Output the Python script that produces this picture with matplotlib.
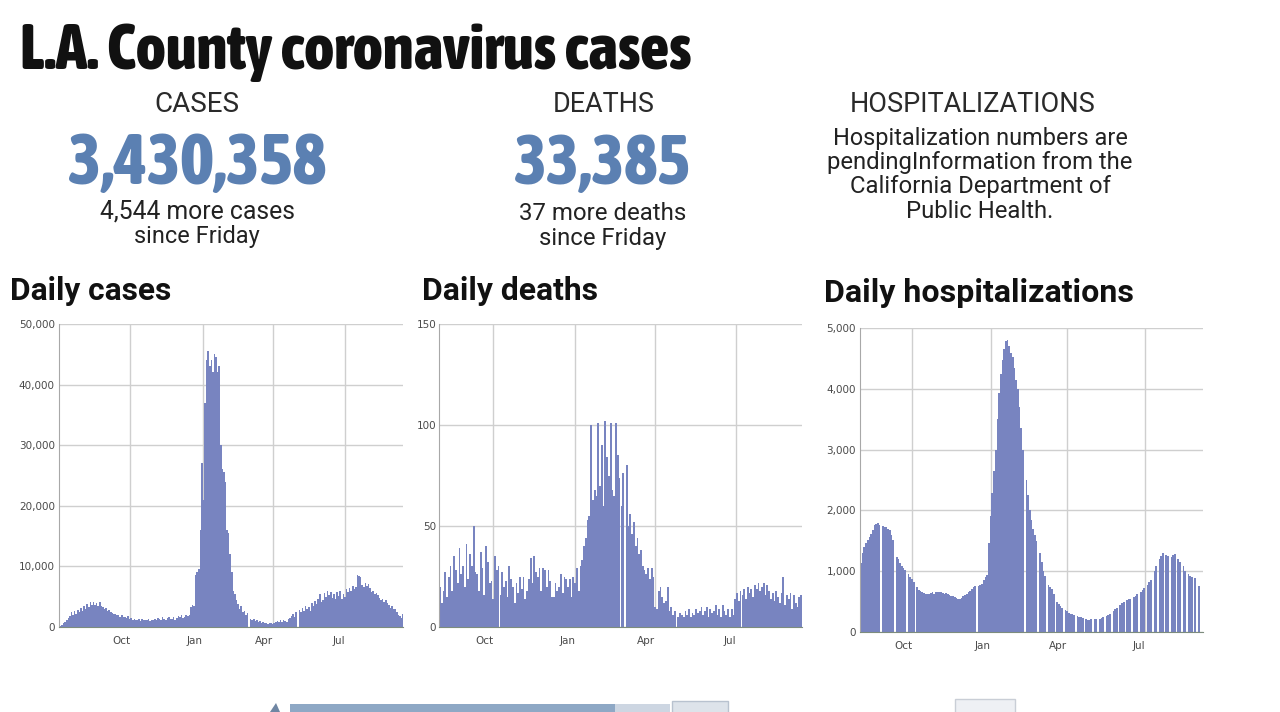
import numpy as np
import pandas as pd
import matplotlib
matplotlib.use("Agg")
import matplotlib.pyplot as plt
from matplotlib.patches import Rectangle, Polygon
from matplotlib import font_manager as fm

# ---------------- data ----------------
cases_start = "2020-07-03"   # 2-day bins
cases_values = [
    200, 400, 700, 900, 1200, 1500, 1800, 2400, 1900, 2600, 2200, 2800, 2500, 3200, 2700, 3400, 3000,
    3800, 3300, 4100, 3600, 4200, 3700, 4000, 3500, 4100, 3400, 3300, 2900, 3100, 2600, 2800, 2400, 2300,
    2100, 2200, 1900, 2000, 1700, 1900, 1600, 1700, 1500, 1800, 1400, 1500,
    1200, 1300, 1100, 1200, 1400, 1000, 1300, 1200, 1100, 1200, 1300, 1000, 1200, 1100, 1300,
    1200, 1500, 1300, 1100, 1600, 1400, 1200, 1500, 1700, 1300, 1400, 1600, 1200, 1500, 1800,
    1600, 1900, 1500, 1700, 2000, 1800, 1900,
    3300, 3600, 3500,
    8600, 9000, 9500, 16000, 27000, 21000, 37000, 44000, 45500, 43000, 44000, 42000, 45000, 44500, 42000,
    43000, 30000, 26000, 25500, 24000, 16000, 15500, 12000, 9000, 6000, 5500, 4500, 3800, 3000, 3500,
    2500, 2700, 2000, 2300, 0, 1300, 1200, 1400, 1000, 1100, 900, 1000, 700, 800, 600, 700, 500, 600,
    700, 500, 600,
    800, 1000, 900, 1100, 800, 1200, 1000, 900, 1300, 1500,
    1800, 2200, 1600, 2500, 0,
    2800, 2400, 3200, 2600, 3500, 2900, 3300, 2700,
    4000, 3500, 4300, 3800, 4600, 5400, 4200, 4500,
    5600, 5000, 5900, 5200, 5800, 4800, 5500,
    4700, 5800, 5100, 6000, 4600, 5400, 5000,
    6300, 5700, 6500, 5900, 6800, 6200, 6600,
    8600, 8400, 8200,
    7000, 6600, 7300, 6800, 7100, 6500,
    5800, 6000, 5400, 5600, 5200,
    4800, 4500, 4700, 4200, 4400, 3900,
    3600, 3200, 3400, 2900, 3000, 2500,
    2000, 1800, 1500, 2100,
]

deaths_start = "2020-08-01"  # 2-day bins
deaths_values = [
    20, 12, 18, 27, 15, 25, 30, 18, 35, 28, 22,
    39, 26, 30, 20, 41, 24, 36, 30, 50, 27,
    26, 18, 37, 29, 16, 40, 32, 22, 23, 14,
    35, 28, 30, 16, 27, 20, 23, 15, 30, 24,
    20, 12, 22, 17, 25, 19, 25, 14, 18, 24,
    34, 22, 35, 27, 25, 29, 18, 29, 28, 20,
    28, 23, 15, 15, 22, 18, 20, 26, 17, 25,
    24, 20, 24, 15, 25, 22, 29, 18, 30,
    33, 40, 44, 53, 55, 100, 63, 68, 65, 101,
    70, 90, 60, 102, 84, 75, 101, 68, 65, 101,
    85, 74, 60, 76, 0, 80, 50, 56, 46, 52,
    40, 44, 36, 38, 30, 28, 26, 29, 24, 29,
    25, 10, 9, 18, 20, 15, 12, 13, 20, 8,
    10, 6, 8, 0, 5, 7, 6, 5, 8, 6,
    9, 5, 7, 6, 9, 7, 8, 10, 6, 8,
    10, 5, 9, 7, 8, 11, 6, 9, 5, 11,
    8, 6, 9, 5, 9, 6, 14, 17, 13, 18,
    16, 19, 14, 20, 17, 19, 15, 21, 19, 22,
    18, 20, 22, 16, 21, 18, 14, 17, 13, 18,
    15, 12, 17, 25, 11, 16, 14, 17, 9, 16,
    12, 10, 15, 16,
]

hosp_start = "2020-08-01"    # 2-day bins
hosp_values = [
    1130, 1300, 1400, 1460, 1520, 1570, 1620, 1680, 1760, 1770,
    1790, 1760, 0, 1750, 1730, 1720, 1700, 1680, 1600, 1510,
    0, 1240, 1200, 1130, 1080, 1050, 1020, 0, 950, 910,
    870, 820, 0, 740, 690, 670, 650, 640, 630, 620,
    630, 640, 650, 630, 650, 660, 660, 650, 640, 630,
    640, 630, 610, 600, 590, 580, 560, 550, 550, 560,
    590, 610, 630, 650, 680, 700, 740, 750, 0, 760,
    770, 790, 850, 900, 930, 1460, 1900, 2280, 2650, 3000,
    3500, 3930, 4250, 4480, 4650, 4780, 4800, 4700, 4590, 4520,
    4350, 4150, 4000, 3700, 3350, 3000, 0, 2500, 2250, 2000,
    1850, 1700, 1600, 1500, 0, 1300, 1150, 1000, 920, 0,
    780, 740, 700, 620, 0, 500, 460, 420, 400, 0,
    370, 350, 320, 300, 290, 280, 0, 260, 250, 240,
    230, 0, 210, 200, 200, 210, 0, 210, 220, 0,
    220, 230, 240, 0, 260, 280, 300, 0, 350, 380,
    400, 0, 450, 480, 500, 0, 520, 540, 550, 0,
    580, 600, 620, 0, 660, 690, 720, 0, 780, 820,
    850, 0, 1000, 1080, 0, 1200, 1250, 1300, 0, 1270,
    1250, 0, 1230, 1260, 1280, 0, 1200, 1150, 0, 1080,
    1000, 0, 960, 920, 900, 0, 880, 0, 750, 0,
]

month_ticks = ["2020-10-01", "2021-01-01", "2021-04-01", "2021-07-01"]
month_labels = ["Oct", "Jan", "Apr", "Jul"]

cases_yticks = [0, 10000, 20000, 30000, 40000, 50000]
cases_ylabels = ["0", "10,000", "20,000", "30,000", "40,000", "50,000"]
deaths_yticks = [0, 50, 100, 150]
deaths_ylabels = ["0", "50", "100", "150"]
hosp_yticks = [0, 1000, 2000, 3000, 4000, 5000]
hosp_ylabels = ["0", "1,000", "2,000", "3,000", "4,000", "5,000"]

headline = "L.A. County coronavirus cases"
total_cases = "3,430,358"
total_deaths = "33,385"
new_cases = "4,544 more cases"
new_deaths = "37 more deaths"
hosp_note = ["Hospitalization numbers are", "pendingInformation from the",
             "California Department of", "Public Health."]

# ---------------- fonts ----------------
W, H = 1280, 712
BAR = "#7884c0"
BLUE = "#5b80b2"
avail = {f.name for f in fm.fontManager.ttflist}
BODY = "Roboto" if "Roboto" in avail else "DejaVu Sans"

_STRETCH = {"ultra-condensed": 0, "extra-condensed": 1, "condensed": 2, "semi-condensed": 3}
_WEIGHT = {"bold": 700, "heavy": 800, "extra bold": 800, "black": 900, "demibold": 600,
           "semibold": 600, "normal": 400, "regular": 400, "medium": 500}


def pick_condensed():
    best, best_score = None, None
    for f in fm.fontManager.ttflist:
        if f.style != "normal":
            continue
        st = f.stretch
        if isinstance(st, str):
            lvl = _STRETCH.get(st)
        else:
            lvl = 0 if st <= 200 else 1 if st <= 300 else 2 if st <= 400 else 3 if st < 500 else None
        fn = f.fname.replace("-", "").replace("_", "").lower()
        if lvl is None:
            if "extracondensed" in fn or "ultracondensed" in fn:
                lvl = 1
            elif "semicondensed" in fn:
                lvl = 3
            elif "condensed" in fn or "narrow" in fn or "condensed" in f.name.lower():
                lvl = 2
        if lvl is None:
            continue
        wt = f.weight
        if isinstance(wt, str):
            wt = _WEIGHT.get(wt.lower(), 400)
        if wt < 600:
            continue
        score = (lvl, abs(wt - 800))
        if best_score is None or score < best_score:
            best, best_score = f, score
    return best


_cf = pick_condensed()
if _cf is not None:
    COND_KW = dict(fontproperties=fm.FontProperties(fname=_cf.fname))
else:
    COND_KW = dict(family="DejaVu Sans", weight="bold")

fig = plt.figure(figsize=(12.8, 7.12), dpi=100)
fig.patch.set_facecolor("white")


def rect(l, t, r, b):
    return [l / W, 1 - b / H, (r - l) / W, (b - t) / H]


fits = []


def txt(x, y, s, width, maxpx=None, **kw):
    t = fig.text(x / W, 1 - y / H, s, **kw)
    fits.append((t, width, maxpx))
    return t


def chart(box, start, vals, xlim, yticks, ylabels, ypad):
    ax = fig.add_axes(rect(*box))
    dates = pd.date_range(start, periods=len(vals), freq="2D")
    ax.bar(dates, vals, width=2, align="edge", color=BAR, linewidth=0)
    ax.set_xlim(pd.Timestamp(xlim[0]), pd.Timestamp(xlim[1]))
    ax.set_ylim(yticks[0], yticks[-1])
    ax.set_yticks(yticks)
    ax.set_yticklabels(ylabels)
    ax.set_xticks([pd.Timestamp(d) for d in month_ticks])
    ax.set_xticklabels(month_labels)
    for lbl in ax.get_xticklabels():
        lbl.set_ha("right")
    ax.grid(True, color="#cfcfcf", linewidth=1.0)
    ax.set_axisbelow(True)
    for s in ("top", "right"):
        ax.spines[s].set_visible(False)
    ax.spines["left"].set_color("#a8a8a8")
    ax.spines["bottom"].set_color("#7d8c7d")
    ax.tick_params(axis="both", length=0, labelsize=7.5, labelcolor="#4a4a4a")
    ax.tick_params(axis="y", pad=ypad)
    ax.tick_params(axis="x", pad=6.5)
    return ax


chart((59, 324, 403, 627), cases_start, cases_values, ("2020-07-02", "2021-09-13"),
      cases_yticks, cases_ylabels, 3)
chart((439, 324, 802, 627), deaths_start, deaths_values, ("2020-08-01", "2021-09-13"),
      deaths_yticks, deaths_ylabels, 2)
chart((860, 328, 1203, 632), hosp_start, hosp_values, ("2020-08-01", "2021-09-07"),
      hosp_yticks, hosp_ylabels, 3)

# ---------------- texts ----------------
txt(20, 69, headline, 670, 64, color="#111111", ha="left", va="baseline", **COND_KW)

txt(197, 104, "CASES", 85, family=BODY, fontsize=16, color="#2a2a2a", ha="center", va="center")
txt(197, 184, total_cases, 258, 74, color=BLUE, ha="center", va="baseline", **COND_KW)
txt(198, 212, new_cases, 195, family=BODY, fontsize=15, color="#222222", ha="center", va="center")
txt(197, 236, "since Friday", 125, family=BODY, fontsize=15, color="#222222", ha="center", va="center")

txt(604, 104, "DEATHS", 102, family=BODY, fontsize=16, color="#2a2a2a", ha="center", va="center")
txt(603, 184, total_deaths, 177, 74, color=BLUE, ha="center", va="baseline", **COND_KW)
txt(603, 213, new_deaths, 167, family=BODY, fontsize=15, color="#222222", ha="center", va="center")
txt(603, 238, "since Friday", 127, family=BODY, fontsize=15, color="#222222", ha="center", va="center")

txt(973, 104, "HOSPITALIZATIONS", 246, family=BODY, fontsize=16, color="#2a2a2a",
    ha="center", va="center")
for s, y, w in zip(hosp_note, [139, 163, 187, 211], [295, 305, 261, 147]):
    txt(980, y, s, w, family=BODY, fontsize=15, color="#222222", ha="center", va="center")

txt(10, 291, "Daily cases", 161, family=BODY, weight="bold", fontsize=17, color="#111111",
    ha="left", va="center")
txt(422, 291, "Daily deaths", 176, family=BODY, weight="bold", fontsize=17, color="#111111",
    ha="left", va="center")
txt(824, 293, "Daily hospitalizations", 309, family=BODY, weight="bold", fontsize=17,
    color="#111111", ha="left", va="center")

# fit text widths to the reference
for t, w, mx in fits:
    t.set_fontsize(40)
fig.canvas.draw()
r = fig.canvas.get_renderer()
for t, w, mx in fits:
    bb = t.get_window_extent(r)
    if bb.width > 0:
        size = t.get_fontsize() * w / bb.width
        if mx is not None:
            size = min(size, mx * 72.0 / 100.0)
        t.set_fontsize(size)

# ---------------- partial element at the bottom edge ----------------
def frect(l, t, r_, b, **kw):
    fig.add_artist(Rectangle((l / W, 1 - b / H), (r_ - l) / W, (b - t) / H,
                             transform=fig.transFigure, **kw))

fig.add_artist(Polygon([(270 / W, 0), (276 / W, 1 - 703 / H), (280 / W, 0)],
                       closed=True, transform=fig.transFigure, color="#6f86a3", lw=0))
frect(290, 704, 615, 713, facecolor="#8ea8c5", lw=0)
frect(615, 704, 670, 713, facecolor="#cdd6e2", lw=0)
frect(672, 701, 728, 713, facecolor="#dde3ea", edgecolor="#b8c2cf", lw=1)
frect(955, 699, 1015, 713, facecolor="#eef0f4", edgecolor="#c9ced6", lw=1)

fig.savefig("out.png", dpi=100, facecolor="white")
